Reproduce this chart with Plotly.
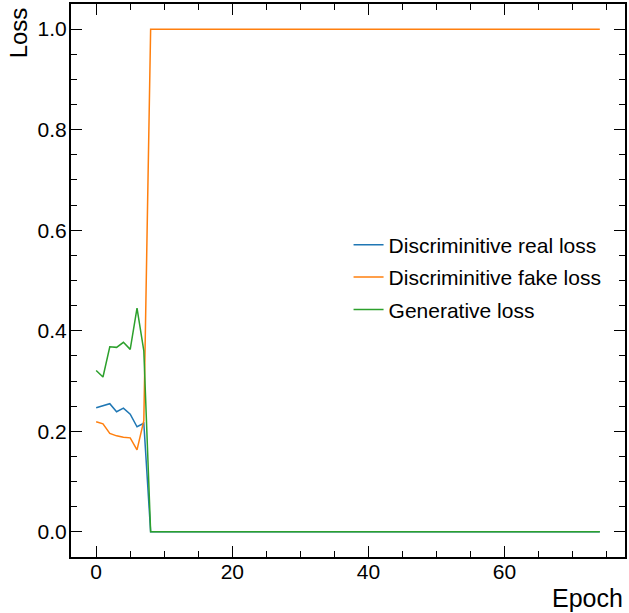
import plotly.graph_objects as go

# Training history: one value per epoch (75 epochs)
epochs = list(range(75))

# Early epochs, then the flat plateau reached from epoch 8 on
real_loss = [0.247, 0.251, 0.255, 0.239, 0.246, 0.234, 0.209, 0.216, 0.0] + [0.0] * 66
fake_loss = [0.219, 0.215, 0.196, 0.191, 0.188, 0.187, 0.163, 0.221, 1.0] + [1.0] * 66
gen_loss = [0.321, 0.308, 0.368, 0.367, 0.377, 0.363, 0.445, 0.360, 0.0] + [0.0] * 66

series_names = ["Discriminitive real loss", "Discriminitive fake loss", "Generative loss"]
series_colors = ["#1f77b4", "#ff7f0e", "#2ca02c"]
series_values = [real_loss, fake_loss, gen_loss]

FONT = "Liberation Sans, Arial, Helvetica, sans-serif"

fig = go.Figure()
for i, (name, color, vals) in enumerate(zip(series_names, series_colors, series_values)):
    fig.add_trace(go.Scatter(
        x=epochs, y=vals, mode="lines", name=name,
        line=dict(color=color, width=1.5),
        legendgroup=f"g{i}",
    ))

axis_common = dict(
    showgrid=False,
    zeroline=False,
    showline=True,
    linecolor="black",
    linewidth=2,
    mirror="allticks",
    ticks="inside",
    ticklen=11,
    tickwidth=1.3,
    tickcolor="black",
    tickfont=dict(family=FONT, size=21, color="black"),
)

fig.update_xaxes(
    range=[-3.7, 77.7],
    tick0=0, dtick=20,
    ticklabelstandoff=-5,
    minor=dict(ticks="inside", dtick=5, ticklen=6, tickwidth=1.2, tickcolor="black", showgrid=False),
    **axis_common,
)
fig.update_yaxes(
    range=[-0.05, 1.05],
    tick0=0, dtick=0.2, tickformat=".1f",
    ticklabelstandoff=-2,
    minor=dict(ticks="inside", dtick=0.05, ticklen=6, tickwidth=1.2, tickcolor="black", showgrid=False),
    **axis_common,
)

fig.add_annotation(
    text="Loss", textangle=-90,
    xref="paper", yref="paper",
    x=(18 - 71) / 556, y=0.997,
    xanchor="center", yanchor="top",
    showarrow=False,
    font=dict(family=FONT, size=24, color="black"),
)
fig.add_annotation(
    text="Epoch",
    xref="paper", yref="paper",
    x=1.0, y=-0.045,
    xanchor="right", yanchor="top",
    showarrow=False,
    font=dict(family=FONT, size=25, color="black"),
)

fig.update_layout(
    width=629, height=613,
    margin=dict(l=71, r=2, t=3, b=56),
    paper_bgcolor="white",
    plot_bgcolor="white",
    showlegend=True,
    legend=dict(
        x=0.501, y=0.601, xanchor="left", yanchor="top",
        bgcolor="rgba(0,0,0,0)", borderwidth=0,
        font=dict(family=FONT, size=21, color="black"),
        traceorder="grouped", tracegroupgap=2,
    ),
)

fig.write_html("out.html")
